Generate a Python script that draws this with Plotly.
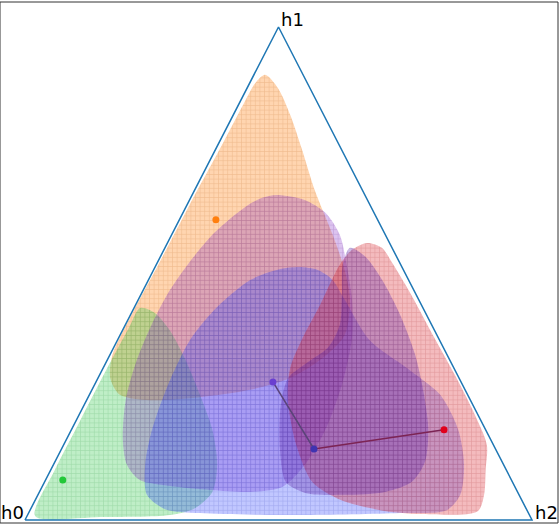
import plotly.graph_objects as go

# density blobs, outline in ternary coords (h1, h2); h0 = 1 - h1 - h2
laranja_h1 = [.903, .876, .822, .751, .669, .578, .507, .446, .375, .325, .288, .264, .249, .243, .254, .288, .335, .410, .523, .639, .755, .842, .886]
laranja_h2 = [.022, .061, .112, .171, .237, .318, .377, .418, .443, .420, .379, .312, .220, .125, .060, .024, .005, .002, .004, .005, .008, .009, .011]

verde_h1 = [.430, .420, .385, .325, .254, .183, .112, .057, .024, .010, .006, .008, .10, .20, .30, .39]
verde_h2 = [.012, .046, .093, .154, .218, .278, .323, .341, .323, .281, .145, .016, .008, .008, .008, .010]

violeta_h1 = [.659, .649, .623, .578, .517, .446, .365, .274, .183, .112, .067, .057, .061, .069, .081, .112, .162, .243, .320, .389, .460, .523, .584, .635, .653]
violeta_h2 = [.167, .227, .281, .332, .376, .422, .462, .488, .501, .496, .474, .416, .335, .252, .186, .145, .112, .077, .059, .052, .052, .063, .083, .117, .140]

azul_h1 = [.513, .507, .487, .446, .365, .304, .254, .183, .112, .051, .020, .014, .010, .014, .022, .051, .112, .183, .274, .365, .432, .487, .509]
azul_h2 = [.285, .324, .363, .408, .497, .607, .692, .763, .810, .833, .822, .733, .537, .338, .265, .215, .181, .159, .145, .143, .163, .201, .249]

vermelho_h1 = [.562, .552, .523, .462, .379, .294, .213, .152, .101, .051, .018, .012, .020, .041, .077, .152, .243, .308, .369, .436, .517, .548]
vermelho_h2 = [.394, .428, .462, .528, .613, .701, .781, .835, .858, .880, .884, .773, .690, .601, .528, .459, .397, .369, .363, .364, .362, .371]

roxo_h1 = [.552, .535, .487, .416, .335, .254, .183, .118, .077, .057, .051, .055, .077, .142, .233, .288, .316, .351, .396, .456, .517]
roxo_h2 = [.365, .403, .461, .532, .602, .660, .704, .730, .724, .682, .606, .525, .476, .432, .388, .375, .394, .423, .423, .397, .368]

# points
pontos_h1 = [.609, .081, .280, .144, .183]
pontos_h2 = [.072, .034, .349, .498, .735]
pontos_cor = ['#ff7f0e', '#22c838', '#6a3fd0', '#3f33b0', '#e0001b']
trajetoria = [2, 3, 4]
trajetoria_cor = ['#5a4478', '#7c2454']

vertices = ['h0', 'h1', 'h2']


def cart(h1, h2):
    # ternary -> cartesian on the triangle h0=(0,0), h2=(1,0), h1=(0.5,1)
    x = [b + a / 2 for a, b in zip(h1, h2)]
    return x, list(h1)


fig = go.Figure()

blobs = [
    (laranja_h1, laranja_h2, (255, 127, 14), 0.33),
    (verde_h1, verde_h2, (44, 200, 70), 0.30),
    (violeta_h1, violeta_h2, (130, 40, 195), 0.28),
    (azul_h1, azul_h2, (50, 70, 255), 0.30),
    (vermelho_h1, vermelho_h2, (220, 30, 40), 0.30),
    (roxo_h1, roxo_h2, (90, 30, 170), 0.30),
]
for h1, h2, (r, g, b), a in blobs:
    x, y = cart(h1 + h1[:1], h2 + h2[:1])
    fig.add_trace(go.Scatter(
        x=x, y=y, mode='lines', fill='toself',
        line=dict(width=0, shape='spline', smoothing=0.8),
        fillcolor=f'rgba({r},{g},{b},{a})',
        fillpattern=dict(shape='+', size=4.6, solidity=0.25, fillmode='overlay',
                         bgcolor=f'rgba({r},{g},{b},{a})',
                         fgcolor=f'rgb({int(r*0.7)},{int(g*0.7)},{int(b*0.7)})', fgopacity=0.2),
        hoverinfo='skip', showlegend=False,
    ))

# triangle
tx, ty = cart([0, 1, 0, 0], [0, 0, 1, 0])
fig.add_trace(go.Scatter(x=tx, y=ty, mode='lines', line=dict(color='#1f77b4', width=1.5),
                         hoverinfo='skip', showlegend=False))

# trajectory
for i in range(len(trajetoria) - 1):
    a, b = trajetoria[i], trajetoria[i + 1]
    x, y = cart([pontos_h1[a], pontos_h1[b]], [pontos_h2[a], pontos_h2[b]])
    fig.add_trace(go.Scatter(x=x, y=y, mode='lines', line=dict(color=trajetoria_cor[i], width=1.5),
                             showlegend=False))

px_, py_ = cart(pontos_h1, pontos_h2)
fig.add_trace(go.Scatter(x=px_, y=py_, mode='markers',
                         marker=dict(color=pontos_cor, size=7),
                         showlegend=False))

fonte = dict(family='DejaVu Sans', size=18, color='black')
fig.add_annotation(x=0, y=0, text=vertices[0], showarrow=False, xanchor='right', yanchor='bottom',
                   yshift=-5, xshift=1, font=fonte)
fig.add_annotation(x=1, y=0, text=vertices[2], showarrow=False, xanchor='left', yanchor='bottom',
                   yshift=-5, xshift=1, font=fonte)
fig.add_annotation(x=0.5, y=1, text=vertices[1], showarrow=False, xanchor='left', yanchor='bottom',
                   yshift=-5, xshift=0, font=fonte)

fig.add_shape(type='rect', xref='paper', yref='paper', x0=0, y0=0, x1=1, y1=1,
              line=dict(color='#333333', width=1))

fig.update_layout(
    width=560, height=525,
    margin=dict(l=0, r=2, t=2, b=2),
    paper_bgcolor='white', plot_bgcolor='white',
    xaxis=dict(range=[-25 / 507, -25 / 507 + 558 / 507], visible=False),
    yaxis=dict(range=[1 + 25 / 493 - 521 / 493, 1 + 25 / 493], visible=False),
)

fig.write_html("out.html", config={'displayModeBar': False},
               post_script="document.body.style.margin='0';document.body.style.overflow='hidden';")
